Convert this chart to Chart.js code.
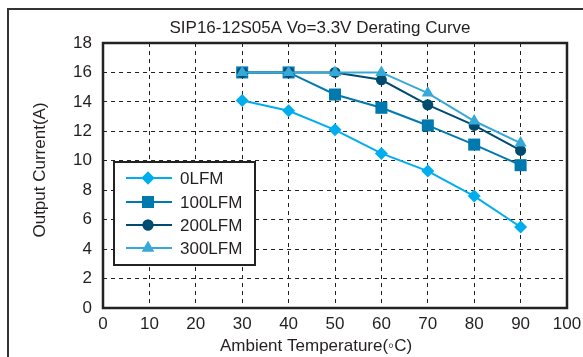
<!DOCTYPE html>
<html>
<head>
<meta charset="utf-8">
<script src="https://cdn.jsdelivr.net/npm/chart.js@4.4.1/dist/chart.umd.min.js"></script>
<style>
html,body{margin:0;padding:0;background:#fff;}
#wrap{width:583px;height:357px;position:relative;}
</style>
</head>
<body>
<div id="wrap"><canvas id="c" width="583" height="357"></canvas></div>
<script>
const temperatures = [30, 40, 50, 60, 70, 80, 90];
const lfm0   = [14.1, 13.4, 12.1, 10.5, 9.3, 7.6, 5.5];
const lfm100 = [16, 16, 14.5, 13.6, 12.4, 11.1, 9.7];
const lfm200 = [16, 16, 16, 15.5, 13.8, 12.4, 10.7];
const lfm300 = [16, 16, 16, 16, 14.6, 12.7, 11.2];
const seriesNames = ['0LFM', '100LFM', '200LFM', '300LFM'];
const xTicks = [0, 10, 20, 30, 40, 50, 60, 70, 80, 90, 100];
const yTicks = [0, 2, 4, 6, 8, 10, 12, 14, 16, 18];
const titleText = 'SIP16-12S05A Vo=3.3V Derating Curve';
const xTitle = 'Ambient Temperature(\u25E6C)';
const yTitle = 'Output Current(A)';

const FONT = '"Liberation Sans", Arial, Helvetica, sans-serif';
const TXT = '#231f20';
const FS = 17;

function pts(vals){ return temperatures.map((t,i)=>({x:t,y:vals[i]})); }

const styles = [
  {color:'#00aeef', pointStyle:'rectRot', radius:6.5},
  {color:'#0079ae', pointStyle:'rect', radius:8.5},
  {color:'#004b70', pointStyle:'circle', radius:5.5},
  {color:'#36a9d8', pointStyle:'triangle', radius:7}
];
const allVals = [lfm0, lfm100, lfm200, lfm300];

const datasets = allVals.map((v,i)=>({
  label: seriesNames[i],
  data: pts(v),
  borderColor: styles[i].color,
  backgroundColor: styles[i].color,
  pointBackgroundColor: styles[i].color,
  pointBorderColor: styles[i].color,
  pointBorderWidth: 0,
  pointStyle: styles[i].pointStyle,
  pointRadius: styles[i].radius,
  pointHoverRadius: styles[i].radius,
  borderWidth: 2,
  tension: 0,
  order: 3 - i
}));

const decor = {
  id: 'decor',
  beforeDraw(chart){
    const ctx = chart.ctx;
    ctx.save();
    ctx.fillStyle = '#fff';
    ctx.fillRect(0,0,chart.width,chart.height);
    ctx.strokeStyle = '#333';
    ctx.lineWidth = 2;
    ctx.beginPath();
    ctx.moveTo(8, chart.height + 5);
    ctx.lineTo(8, 9);
    ctx.lineTo(chart.width + 5, 9);
    ctx.stroke();
    ctx.fillStyle = TXT;
    ctx.font = FS + 'px ' + FONT;
    ctx.textAlign = 'center';
    ctx.textBaseline = 'middle';
    ctx.fillText(titleText, 320, 28);
    ctx.fillText(xTitle, 316, 346);
    ctx.translate(40, 170);
    ctx.rotate(-Math.PI/2);
    ctx.fillText(yTitle, 0, 0);
    ctx.restore();
  },
  afterDatasetsDraw(chart){
    const ctx = chart.ctx;
    const a = chart.chartArea;
    ctx.save();
    ctx.strokeStyle = '#222';
    ctx.lineWidth = 2.5;
    ctx.strokeRect(a.left, a.top, a.right - a.left, a.bottom - a.top);
    ctx.restore();
  },
  afterDraw(chart){
    const ctx = chart.ctx;
    ctx.save();
    const bx = 114, by = 162, bw = 141, bh = 103;
    ctx.fillStyle = '#fff';
    ctx.fillRect(bx, by, bw, bh);
    ctx.strokeStyle = '#222';
    ctx.lineWidth = 2;
    ctx.strokeRect(bx, by, bw, bh);
    const rows = [178, 202, 225, 248];
    chart.data.datasets.forEach((ds,i)=>{
      const y = rows[i];
      ctx.strokeStyle = ds.borderColor;
      ctx.lineWidth = 2;
      ctx.beginPath();
      ctx.moveTo(126, y);
      ctx.lineTo(172, y);
      ctx.stroke();
      ctx.fillStyle = ds.borderColor;
      Chart.helpers.drawPoint(ctx, {pointStyle: ds.pointStyle, radius: ds.pointRadius, rotation: 0, borderWidth: 0}, 148, y);
      ctx.fill();
      ctx.fillStyle = TXT;
      ctx.font = FS + 'px ' + FONT;
      ctx.textAlign = 'left';
      ctx.textBaseline = 'middle';
      ctx.fillText(ds.label, 180, y + 1);
    });
    ctx.restore();
  }
};

new Chart(document.getElementById('c'), {
  type: 'line',
  data: { datasets },
  plugins: [decor],
  options: {
    responsive: false,
    animation: false,
    events: [],
    layout: { padding: { top: 43, right: 16, left: 0, bottom: 0 } },
    plugins: { legend: { display: false }, tooltip: { enabled: false }, title: { display: false } },
    scales: {
      x: {
        type: 'linear',
        min: 0, max: 100,
        afterBuildTicks(scale){ scale.ticks = xTicks.map(v=>({value:v})); },
        afterFit(scale){ scale.height = 49; scale.paddingLeft = 0; scale.paddingRight = 0; },
        grid: { color: '#222', lineWidth: 1, drawTicks: false },
        border: { display: false, dash: [4,4] },
        ticks: { color: TXT, font: { family: FONT, size: FS }, padding: 6, maxRotation: 0, autoSkip: false }
      },
      y: {
        type: 'linear',
        min: 0, max: 18,
        afterBuildTicks(scale){ scale.ticks = yTicks.map(v=>({value:v})); },
        afterFit(scale){ scale.width = 103; scale.paddingTop = 0; scale.paddingBottom = 0; },
        grid: { color: '#222', lineWidth: 1, drawTicks: false },
        border: { display: false, dash: [4,4] },
        ticks: { color: TXT, font: { family: FONT, size: FS }, padding: 11, autoSkip: false }
      }
    }
  }
});
</script>
</body>
</html>
